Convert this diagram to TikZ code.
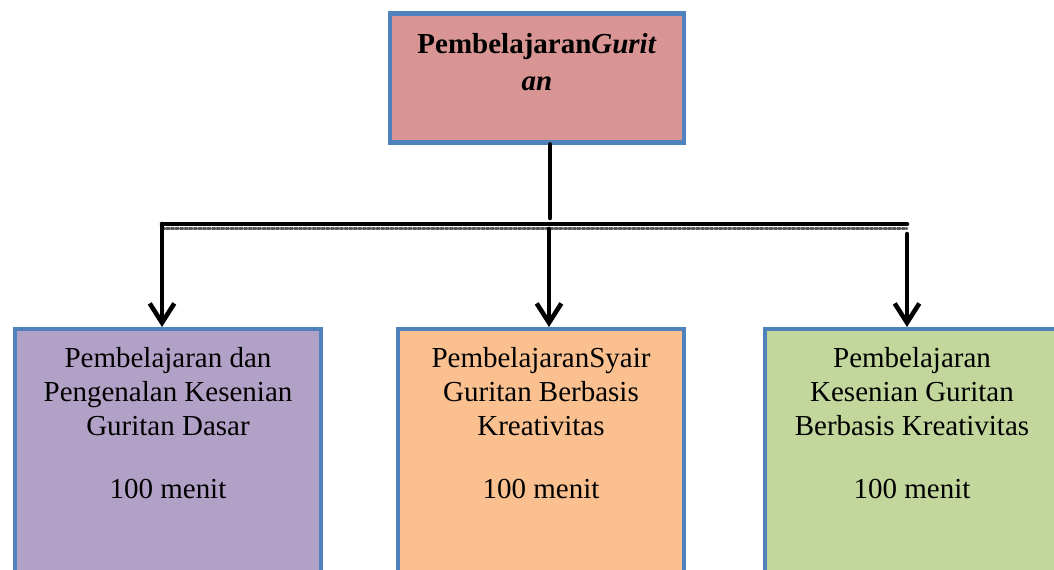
\documentclass[tikz,border=0pt]{standalone}
\usepackage{fontspec}
\setmainfont{Liberation Serif}
\usetikzlibrary{arrows.meta, positioning}
\definecolor{boxblue}{RGB}{79,129,189}
\definecolor{titlered}{RGB}{217,149,148}
\definecolor{boxpurple}{RGB}{178,161,199}
\definecolor{boxorange}{RGB}{250,192,144}
\definecolor{boxgreen}{RGB}{195,214,155}

\begin{document}
\begin{tikzpicture}[x=0.02cm, y=-0.02cm,
  box/.style={draw=boxblue, line width=2.3pt, inner sep=0pt},
  boxtext/.style={align=center, font=\fontsize{16.5}{19.3}\selectfont, inner sep=0pt},
  link/.style={line width=2.6pt, line cap=round},
  arrowlink/.style={link, -{Straight Barb[length=11pt, width=14pt, line width=2.6pt]}}]
  \useasboundingbox (0,0) rectangle (1054,570);
  \clip (0,0) rectangle (1054,570);
  % Top box
  \node[box, fill=titlered, minimum width=5.88cm, minimum height=2.58cm] (top) at (537,78) {};
  \node[boxtext, font=\fontsize{16.5}{21}\selectfont\bfseries, anchor=north] (toptext) at (537,33)
    {Pembelajaran\textit{Gurit}\\\textit{an}};
  % Bottom boxes
  \node[box, fill=boxpurple, minimum width=6.14cm, minimum height=6cm, anchor=north] (left) at (168,327) {};
  \node[box, fill=boxorange, minimum width=5.72cm, minimum height=6cm, anchor=north] (mid) at (541,327) {};
  \node[box, fill=boxgreen, minimum width=5.9cm, minimum height=6cm, anchor=north] (right) at (912,327) {};
  \node[boxtext, anchor=north] (lefttext) at (168,347)
    {Pembelajaran dan\\Pengenalan Kesenian\\Guritan Dasar\\[16.5pt]100 menit};
  \node[boxtext, anchor=north] (midtext) at (541,347)
    {PembelajaranSyair\\Guritan Berbasis\\Kreativitas\\[16.5pt]100 menit};
  \node[boxtext, anchor=north] (righttext) at (912,347)
    {Pembelajaran\\Kesenian Guritan\\Berbasis Kreativitas\\[16.5pt]100 menit};
  % Connectors
  \coordinate (split) at (550,218);
  \coordinate (barleft) at (162,224);
  \coordinate (barright) at (907,224);
  \coordinate (barmid) at (549,229);
  \coordinate (barrightdown) at (907,234);
  \draw[link] (top.south -| split) -- (split);
  \draw[link, postaction={draw, gray!70!black, densely dotted, line width=1.6pt, transform canvas={yshift=-2.4pt}}]
    (barleft) -- (barright);
  \draw[arrowlink] (barleft) -- (barleft |- left.north);
  \draw[arrowlink] (barmid) -- (barmid |- mid.north);
  \draw[arrowlink] (barrightdown) -- (barrightdown |- right.north);
\end{tikzpicture}
\end{document}
